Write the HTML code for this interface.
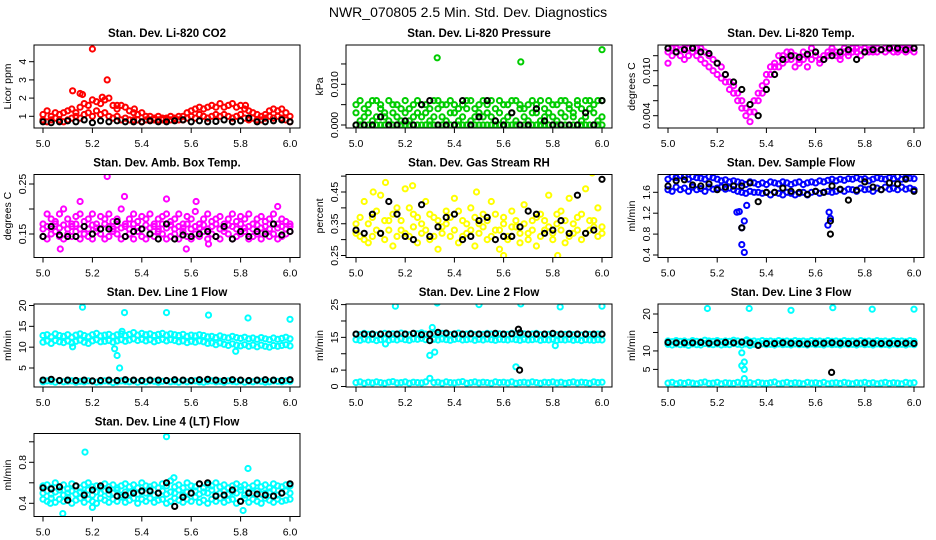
<!DOCTYPE html>
<html><head><meta charset="utf-8"><style>
html,body{margin:0;padding:0;background:#fff;}
svg{display:block;font-family:"Liberation Sans",sans-serif;}
</style></head><body>
<svg id="chart" width="936" height="540" viewBox="0 0 936 540" xmlns="http://www.w3.org/2000/svg">
<text x="468" y="17" text-anchor="middle" font-size="14">NWR_070805  2.5 Min. Std. Dev. Diagnostics</text>
</svg>
<script>
// ---------- data ----------
const xTicks=[5.0,5.2,5.4,5.6,5.8,6.0];
const xTickLabels=["5.0","5.2","5.4","5.6","5.8","6.0"];

const co2Hi=[1.1,1.3,1.0,1.2,1.1,1.2,1.3,1.4,1.2,1.5,1.7,1.6,1.9,1.8,1.7,1.9,2.0,1.6,1.4,1.6,1.5,1.3,1.2,1.1,1.2,1.0,1.0,0.9,1.0,0.9,0.9,1.0,0.9,1.0,1.0,1.2,1.3,1.4,1.5,1.4,1.5,1.6,1.5,1.7,1.5,1.6,1.7,1.5,1.6,1.4,1.3,1.2,1.1,1.0,1.1,1.3,1.4,1.3,1.4,1.2,1.0];
const co2Lo=[0.8,0.7,0.8,0.9,0.8,0.7,0.8,0.9,1.0,0.9,1.1,1.2,1.0,1.3,1.1,1.2,1.0,0.9,1.0,0.8,0.9,0.8,0.8,0.8,0.7,0.8,0.8,0.8,0.8,0.8,0.8,0.8,0.8,0.8,0.8,0.9,1.0,0.9,1.1,1.0,0.9,1.0,1.1,1.0,1.1,1.0,0.9,1.0,1.1,0.9,0.8,0.9,0.8,0.8,0.9,1.0,0.9,1.0,0.9,0.8,0.7];
const co2OutX=[5.12,5.15,5.16,5.2,5.24,5.26,5.3,5.37,5.82];
const co2OutY=[2.4,2.25,2.2,4.7,2.05,3.0,1.6,1.4,1.6];
const co2Black=[0.7,0.65,0.7,0.75,0.7,0.8,0.65,0.75,0.7,0.75,0.7,0.7,0.7,0.75,0.7,0.7,0.75,0.8,0.7,0.75,0.7,0.72,0.8,0.7,0.75,0.9,0.7,0.7,0.75,0.8,0.7];

const presA=[0.003,0.006,0.002,0.005,0.001,0.006,0.004,0.002,0.006,0.003,0.005,0.001,0.006,0.004,0.002,0.006,0.005,0.003,0.001,0.006,0.004,0.002,0.005,0.006,0.003,0.001,0.005,0.004,0.006,0.002,0.003,0.006,0.005,0.002,0.004,0.006,0.001,0.005,0.003,0.006,0.004,0.002,0.005,0.006,0.003,0.001,0.004,0.006,0.002,0.005,0.003,0.006,0.004,0.002,0.005,0.001,0.006,0.004,0.003,0.006,0.002];
const presB=[0.005,0.001,0.004,0.003,0.006,0.002,0.005,0.003,0.001,0.005,0.002,0.004,0.003,0.001,0.005,0.003,0.002,0.005,0.004,0.002,0.006,0.005,0.001,0.003,0.005,0.004,0.002,0.006,0.001,0.004,0.005,0.002,0.003,0.006,0.001,0.003,0.005,0.002,0.006,0.001,0.005,0.004,0.001,0.003,0.005,0.006,0.002,0.003,0.005,0.001,0.006,0.002,0.005,0.003,0.006,0.004,0.002,0.006,0.005,0.001,0.006];
const presZero=[0,0,0,0,0,0,0,0,0,0,0,0,0,0,0,0,0,0,0,0,0,0,0,0,0,0,0,0,0,0,0,0,0,0,0,0,0,0,0,0,0,0,0,0,0,0,0,0,0,0,0,0,0,0,0,0,0,0,0,0,0];
const presOutX=[5.33,5.67,6.0];
const presOutY=[0.0165,0.0155,0.0185];
const presBlack=[0.0,0.0,0.0,0.002,0.0,0.0,0.001,0.0,0.005,0.006,0.0,0.0,0.0,0.006,0.0,0.002,0.006,0.001,0.0,0.003,0.0,0.0,0.004,0.001,0.0,0.0,0.0,0.0,0.003,0.0,0.006];

const tempHi=[0.0125,0.013,0.013,0.0128,0.013,0.013,0.0125,0.013,0.013,0.0125,0.012,0.0115,0.011,0.0105,0.0095,0.0085,0.008,0.007,0.006,0.005,0.0045,0.006,0.007,0.008,0.0095,0.0105,0.011,0.012,0.012,0.0125,0.0125,0.012,0.0115,0.0125,0.012,0.013,0.0125,0.0115,0.012,0.0125,0.013,0.0125,0.012,0.013,0.0125,0.013,0.013,0.0128,0.013,0.0125,0.013,0.013,0.0128,0.013,0.013,0.013,0.0128,0.013,0.013,0.013,0.013];
const tempLo=[0.011,0.012,0.0125,0.012,0.0115,0.012,0.0125,0.012,0.0115,0.011,0.0105,0.01,0.0095,0.009,0.0085,0.0075,0.007,0.006,0.005,0.004,0.0032,0.0045,0.006,0.007,0.0085,0.0095,0.0105,0.0105,0.011,0.0115,0.0115,0.0105,0.011,0.0115,0.0105,0.0115,0.012,0.011,0.0115,0.012,0.0125,0.012,0.0115,0.0125,0.012,0.0125,0.0125,0.012,0.0125,0.0128,0.0125,0.0125,0.0128,0.0125,0.0128,0.0125,0.0125,0.0128,0.0125,0.0128,0.0125];
const tempBlack=[0.013,0.0125,0.0128,0.013,0.0125,0.0123,0.011,0.0095,0.0085,0.0075,0.0055,0.004,0.0075,0.0095,0.0115,0.012,0.0118,0.0122,0.0125,0.0115,0.012,0.0125,0.0128,0.0115,0.0125,0.0128,0.0128,0.013,0.013,0.0128,0.013];

const ambHi=[0.17,0.19,0.18,0.175,0.19,0.2,0.18,0.17,0.185,0.19,0.175,0.18,0.19,0.17,0.185,0.18,0.19,0.175,0.18,0.2,0.17,0.18,0.19,0.175,0.185,0.18,0.19,0.17,0.18,0.185,0.19,0.175,0.18,0.19,0.17,0.185,0.18,0.195,0.17,0.18,0.19,0.175,0.18,0.185,0.17,0.18,0.19,0.175,0.185,0.18,0.19,0.17,0.18,0.185,0.175,0.18,0.19,0.17,0.18,0.175,0.17];
const ambMid=[0.16,0.165,0.16,0.17,0.162,0.168,0.16,0.165,0.17,0.16,0.165,0.16,0.168,0.162,0.16,0.17,0.165,0.16,0.168,0.162,0.165,0.16,0.17,0.163,0.16,0.168,0.162,0.165,0.16,0.17,0.162,0.168,0.16,0.165,0.162,0.17,0.16,0.165,0.162,0.168,0.16,0.165,0.17,0.16,0.162,0.168,0.165,0.16,0.17,0.162,0.165,0.16,0.168,0.162,0.165,0.16,0.17,0.162,0.165,0.16,0.165];
const ambLo=[0.145,0.14,0.15,0.155,0.145,0.14,0.15,0.145,0.155,0.14,0.15,0.145,0.14,0.155,0.15,0.14,0.145,0.155,0.15,0.14,0.145,0.15,0.14,0.155,0.145,0.14,0.15,0.145,0.155,0.15,0.14,0.145,0.15,0.14,0.155,0.145,0.14,0.15,0.145,0.155,0.14,0.15,0.145,0.14,0.155,0.15,0.14,0.145,0.15,0.155,0.14,0.145,0.15,0.14,0.155,0.145,0.15,0.14,0.145,0.15,0.155];
const ambOutX=[5.07,5.15,5.26,5.33,5.5,5.58,5.62,5.95,5.67];
const ambOutY=[0.12,0.215,0.265,0.225,0.22,0.12,0.215,0.205,0.13];
const ambBlack=[0.145,0.165,0.148,0.145,0.145,0.165,0.15,0.16,0.16,0.175,0.145,0.155,0.16,0.15,0.14,0.17,0.14,0.148,0.145,0.15,0.155,0.145,0.165,0.14,0.155,0.145,0.155,0.15,0.17,0.148,0.155];

const rhA=[0.35,0.31,0.42,0.29,0.37,0.33,0.44,0.30,0.36,0.28,0.40,0.33,0.46,0.31,0.38,0.29,0.35,0.42,0.30,0.37,0.27,0.34,0.39,0.31,0.43,0.29,0.36,0.32,0.40,0.28,0.35,0.38,0.30,0.42,0.33,0.27,0.37,0.31,0.39,0.34,0.29,0.41,0.32,0.36,0.28,0.38,0.33,0.44,0.30,0.35,0.39,0.29,0.43,0.32,0.37,0.30,0.46,0.33,0.36,0.31,0.34];
const rhB=[0.32,0.37,0.30,0.35,0.31,0.39,0.32,0.36,0.33,0.38,0.31,0.36,0.32,0.40,0.34,0.37,0.32,0.33,0.38,0.31,0.36,0.32,0.35,0.37,0.33,0.39,0.31,0.35,0.33,0.37,0.32,0.34,0.36,0.31,0.38,0.33,0.35,0.30,0.34,0.36,0.32,0.35,0.30,0.33,0.37,0.31,0.36,0.34,0.32,0.38,0.33,0.36,0.31,0.35,0.33,0.38,0.32,0.36,0.34,0.40,0.32];
const rhOutX=[5.12,5.23,5.96,5.6,5.82,5.07,5.49];
const rhOutY=[0.48,0.47,0.51,0.25,0.25,0.45,0.45];
const rhBlack=[0.33,0.32,0.38,0.32,0.42,0.38,0.31,0.30,0.41,0.31,0.34,0.37,0.38,0.30,0.31,0.36,0.37,0.30,0.31,0.31,0.34,0.39,0.38,0.32,0.33,0.36,0.32,0.44,0.32,0.33,0.49];

const sfHi=[1.85,1.9,1.88,1.92,1.9,1.85,1.9,1.88,1.87,1.85,1.9,1.88,1.85,1.82,1.84,1.8,1.82,1.8,1.78,1.75,1.8,1.78,1.75,1.78,1.75,1.8,1.78,1.76,1.8,1.78,1.75,1.78,1.8,1.75,1.78,1.8,1.78,1.82,1.8,1.83,1.85,1.82,1.85,1.83,1.86,1.85,1.88,1.85,1.86,1.82,1.85,1.88,1.86,1.85,1.88,1.86,1.9,1.85,1.88,1.87,1.86];
const sfLo=[1.65,1.62,1.7,1.65,1.68,1.62,1.7,1.65,1.67,1.62,1.7,1.66,1.68,1.7,1.66,1.68,1.65,1.62,1.6,1.58,1.62,1.6,1.6,1.58,1.6,1.55,1.6,1.58,1.55,1.6,1.58,1.55,1.58,1.6,1.55,1.6,1.62,1.58,1.6,1.62,1.6,1.62,1.65,1.62,1.66,1.65,1.62,1.68,1.65,1.66,1.62,1.68,1.65,1.7,1.66,1.68,1.65,1.7,1.66,1.68,1.65];
const sfOutX=[5.28,5.29,5.30,5.30,5.31,5.31,5.32,5.65,5.655,5.66];
const sfOutY=[1.22,1.23,0.92,0.6,0.45,1.05,1.35,0.97,1.22,1.1];
const sfBlack=[1.72,1.82,1.84,1.74,1.72,1.76,1.65,1.70,1.72,1.72,1.78,1.42,1.60,1.60,1.68,1.62,1.60,1.56,1.62,1.60,1.72,1.66,1.45,1.64,1.80,1.70,1.65,1.78,1.76,1.85,1.62];
const sfBlackOutX=[5.3,5.66,5.66];
const sfBlackOutY=[0.92,1.05,0.8];

const l1Hi=[12.8,13,12.5,13.2,12.8,12.6,13,12.4,12.9,13.2,12.8,12.5,13,13.3,12.7,12.9,13.1,12.6,13,13.2,12.8,13.1,13.5,12.9,13.3,13,13.2,12.8,13.1,13.3,12.9,13.2,13,12.8,13.1,12.6,12.9,12.7,13,12.8,12.5,12.6,12.3,12.7,12.4,12.2,12.6,12.3,12.1,12.4,12,12.2,11.9,12.3,12,11.8,12.2,11.9,12.1,12.4,12];
const l1Lo=[11.2,11.5,10.9,11.6,11.3,11.1,11.5,11.0,11.4,11.7,11.2,10.9,11.5,11.8,11.3,11.4,11.6,11.2,11.5,11.8,11.4,11.7,12,11.6,11.9,11.5,11.8,11.3,11.6,11.9,11.5,11.8,11.6,11.3,11.5,11.1,11.4,11.2,11.5,11.3,10.9,11,10.6,11,10.7,10.4,10.8,10.5,10.3,10.6,10.2,10.5,10.1,10.5,10.2,10,10.4,10.2,10.4,10.6,10.3];
const l1Low=[1.7,1.9,1.8,1.6,1.9,1.7,1.8,1.9,1.6,1.8,1.7,1.9,1.8,1.6,1.7,1.9,1.8,1.5,1.7,1.9,1.8,1.7,1.9,1.6,1.8,1.7,1.9,1.8,1.6,1.8,1.9,1.7,1.8,1.6,1.9,1.7,1.8,1.9,1.7,1.6,1.8,1.9,1.7,1.8,1.6,1.9,1.8,1.7,1.9,1.6,1.8,1.7,1.9,1.8,1.6,1.7,1.9,1.8,1.7,1.9,1.8];
const l1OutX=[5.16,5.33,5.5,5.67,5.83,6.0,5.29,5.3,5.31,5.32,5.12,5.78];
const l1OutY=[19.6,18.3,18.3,17.7,17,16.7,9.6,8,5,13.8,10.1,9];
const l1Black=[2.1,2.3,2.0,2.1,2.0,2.1,1.9,2.0,2.1,2.0,2.2,2.1,2.0,2.1,2.1,2.0,2.2,2.1,2.0,2.2,2.3,2.1,2.0,2.2,2.1,2.0,2.1,2.2,2.1,2.0,2.2];

const l2Hi=[16,15.8,16.2,15.9,16.1,15.7,16,16.2,15.8,16.1,15.9,16.3,16,15.8,16.2,16.1,16.4,16,15.8,16.1,15.9,16.2,16,15.8,16.1,16.3,15.9,16,16.2,15.8,16.1,15.9,16.2,16,15.8,16.1,16,15.9,16.2,16,15.8,16.1,15.9,16,16.2,15.8,16,15.9,16.1,15.8,16,15.9,16.1,15.8,16,15.7,16,15.9,15.8,16,15.9];
const l2Lo=[14.3,14.1,14.5,14.2,14.4,14,14.3,14.5,14.1,14.4,14.2,14.6,14.3,14.1,14.5,14.4,14.7,14.3,14.1,14.4,14.2,14.5,14.3,14.1,14.4,14.6,14.2,14.3,14.5,14.1,14.4,14.2,14.5,14.3,14.1,14.4,14.3,14.2,14.5,14.3,14.1,14.4,14.2,14.3,14.5,14.1,14.3,14.2,14.4,14.1,14.3,14.2,14.4,14.1,14.3,14,14.3,14.2,14.1,14.3,14.2];
const l2Low=[1.2,1.4,1.0,1.3,1.1,1.4,1.2,1.0,1.3,1.5,1.1,1.2,1.4,1.0,1.3,1.2,1.1,1.4,2.5,1.2,1.3,1.0,1.4,1.2,1.1,1.3,1.5,1.0,1.2,1.4,1.1,1.3,1.2,1.0,1.4,1.2,1.3,1.1,1.4,1.0,1.2,1.3,1.1,1.4,1.2,1.0,1.3,1.2,1.4,1.1,1.3,1.0,1.2,1.4,1.1,1.3,1.2,1.0,1.4,1.2,1.3];
const l2OutX=[5.16,5.33,5.5,5.67,5.83,6.0,5.31,5.3,5.32,5.65,5.12,5.81];
const l2OutY=[24.5,25.5,25,25.2,24.3,24.5,18,9.5,10.5,6,13,12.5];
const l2Black=[16,16,16,16,16,16,16,16.2,15.8,16,16.5,16.3,16,16,16.1,16,16,16.2,16,16.1,16.4,16,16,16,16.2,16,16,16,16,16,16];
const l2BlackOutX=[5.3,5.66,5.665];
const l2BlackOutY=[14,17.5,5];

const l3Hi=[12.7,12.5,12.8,12.6,12.7,12.4,12.8,12.6,12.5,12.9,12.7,12.6,12.8,12.5,12.7,12.6,12.9,12.7,12.5,12.8,12.6,12.7,12.5,12.8,12.6,12.7,12.5,12.8,12.6,12.7,12.5,12.8,12.6,12.7,12.5,12.8,12.6,12.7,12.5,12.8,12.6,12.7,12.5,12.8,12.6,12.7,12.5,12.8,12.6,12.7,12.5,12.8,12.6,12.7,12.5,12.8,12.6,12.7,12.5,12.8,12.6];
const l3Lo=[11.8,11.6,11.9,11.7,11.8,11.5,11.9,11.7,11.6,12,11.8,11.7,11.9,11.6,11.8,11.7,12,11.8,11.6,11.9,11.5,11.8,11.6,11.9,11.7,11.8,11.6,11.9,11.7,11.8,11.6,11.9,11.7,11.8,11.6,11.9,11.7,11.8,11.6,11.9,11.7,11.8,11.6,11.9,11.7,11.8,11.6,11.9,11.7,11.8,11.6,11.9,11.7,11.8,11.6,11.9,11.7,11.8,11.6,11.9,11.7];
const l3Low=[1.3,1.5,1.1,1.4,1.2,1.5,1.3,1.1,1.4,1.6,1.2,1.3,1.5,1.1,1.4,1.3,1.2,1.5,1.3,1.2,1.4,1.1,1.5,1.3,1.2,1.4,1.6,1.1,1.3,1.5,1.2,1.4,1.3,1.1,1.5,1.3,1.4,1.2,1.5,1.1,1.3,1.4,1.2,1.5,1.3,1.1,1.4,1.3,1.5,1.2,1.4,1.1,1.3,1.5,1.2,1.4,1.3,1.1,1.5,1.3,1.4];
const l3OutX=[5.16,5.33,5.5,5.67,5.83,6.0,5.3,5.3,5.31,5.31,5.32,5.31];
const l3OutY=[21.5,21.5,21,21.7,21.3,21.3,9.5,6,7,5,13,2.5];
const l3Black=[12.3,12.2,12.2,12.2,12.3,12.1,12.2,12.3,12.2,12.4,12.2,11.5,12,12,12.2,12.1,12,11.9,12.1,12.1,12.2,12.1,12,12.1,12.2,12.1,12,12.1,12,12.1,12];
const l3BlackOutX=[5.665];
const l3BlackOutY=[4.2];

const l4Hi=[0.57,0.58,0.55,0.6,0.56,0.58,0.54,0.59,0.57,0.55,0.58,0.6,0.56,0.57,0.55,0.59,0.56,0.58,0.55,0.57,0.59,0.56,0.58,0.55,0.6,0.57,0.56,0.58,0.55,0.59,0.57,0.62,0.56,0.58,0.55,0.6,0.57,0.56,0.59,0.55,0.58,0.57,0.6,0.56,0.58,0.55,0.57,0.59,0.56,0.58,0.55,0.57,0.6,0.56,0.58,0.55,0.59,0.57,0.56,0.58,0.57];
const l4Lo=[0.44,0.42,0.45,0.41,0.44,0.42,0.46,0.4,0.43,0.45,0.41,0.44,0.42,0.4,0.45,0.43,0.41,0.44,0.42,0.46,0.41,0.43,0.45,0.4,0.44,0.42,0.45,0.41,0.43,0.44,0.4,0.42,0.45,0.43,0.41,0.44,0.42,0.46,0.41,0.43,0.4,0.44,0.42,0.45,0.41,0.43,0.44,0.4,0.42,0.45,0.41,0.44,0.42,0.4,0.45,0.43,0.41,0.44,0.42,0.43,0.44];
const l4Mid=[0.5,0.52,0.49,0.51,0.53,0.48,0.5,0.52,0.49,0.51,0.5,0.53,0.48,0.51,0.5,0.52,0.49,0.5,0.53,0.48,0.51,0.5,0.52,0.49,0.51,0.5,0.53,0.48,0.5,0.52,0.49,0.51,0.5,0.53,0.48,0.51,0.5,0.52,0.49,0.51,0.5,0.53,0.48,0.5,0.52,0.49,0.51,0.5,0.53,0.48,0.51,0.5,0.52,0.49,0.5,0.51,0.53,0.48,0.5,0.52,0.5];
const l4OutX=[5.08,5.17,5.5,5.83,5.81,5.2,5.03,5.53];
const l4OutY=[0.3,0.9,1.05,0.74,0.33,0.36,0.4,0.65];
const l4Black=[0.55,0.54,0.56,0.43,0.57,0.48,0.53,0.57,0.53,0.47,0.48,0.5,0.52,0.52,0.5,0.6,0.37,0.46,0.5,0.59,0.6,0.47,0.48,0.53,0.42,0.5,0.49,0.48,0.47,0.5,0.59];

// ---------- layout ----------
const colX=[[34,300,43,290],[346,612,356,602],[658,924,668,914]];
const rowTop=[45,174.5,304,433.5];
const boxH=83;
const svg=document.getElementById('chart');
const NS='http://www.w3.org/2000/svg';
function mk(tag,attrs,parent){const e=document.createElementNS(NS,tag);for(const k in attrs)e.setAttribute(k,attrs[k]);(parent||svg).appendChild(e);return e;}
function evenX(arr){const n=arr.length;return arr.map((v,i)=>5+i/(n-1));}

const panels=[
 {key:'co2',title:'Stan. Dev. Li-820 CO2',ylab:'Licor ppm',r:0,c:0,v0:1,p0:116.3-45,v1:4,p1:61.7-45,ticks:[1,2,3,4],labs:['1','2','3','4'],
  series:[{x:null,y:co2Hi,col:'#ff0000'},{x:null,y:co2Lo,col:'#ff0000'},{x:co2OutX,y:co2OutY,col:'#ff0000'},{x:null,y:co2Black,col:'#000'}]},
 {key:'pressure',title:'Stan. Dev. Li-820 Pressure',ylab:'kPa',r:0,c:1,v0:0,p0:125-45,v1:0.01,p1:84.3-45,ticks:[0,0.005,0.01,0.015],labs:['0.000','','0.010',''],
  series:[{x:null,y:presA,col:'#00cc00'},{x:null,y:presB,col:'#00cc00'},{x:null,y:presZero,col:'#00cc00'},{x:presOutX,y:presOutY,col:'#00cc00'},{x:null,y:presBlack,col:'#000'}]},
 {key:'temp',title:'Stan. Dev. Li-820 Temp.',ylab:'degrees C',r:0,c:2,v0:0.004,p0:115.7-45,v1:0.010,p1:70.7-45,ticks:[0.004,0.006,0.008,0.010,0.012],labs:['0.004','','','0.010',''],
  series:[{x:null,y:tempHi,col:'#ff00ff'},{x:null,y:tempLo,col:'#ff00ff'},{x:null,y:tempBlack,col:'#000'}]},
 {key:'ambtemp',title:'Stan. Dev. Amb. Box Temp.',ylab:'degrees C',r:1,c:0,v0:0.15,p0:234-174.5,v1:0.25,p1:184-174.5,ticks:[0.15,0.2,0.25],labs:['0.15','','0.25'],
  series:[{x:null,y:ambHi,col:'#ff00ff'},{x:null,y:ambMid,col:'#ff00ff'},{x:null,y:ambLo,col:'#ff00ff'},{x:ambOutX,y:ambOutY,col:'#ff00ff'},{x:null,y:ambBlack,col:'#000'}]},
 {key:'rh',title:'Stan. Dev. Gas Stream RH',ylab:'percent',r:1,c:1,v0:0.25,p0:255.5-174.5,v1:0.45,p1:192-174.5,ticks:[0.25,0.3,0.35,0.4,0.45,0.5],labs:['0.25','','0.35','','0.45',''],
  series:[{x:null,y:rhA,col:'#ffff00'},{x:null,y:rhB,col:'#ffff00'},{x:rhOutX,y:rhOutY,col:'#ffff00'},{x:null,y:rhBlack,col:'#000'}]},
 {key:'sampleflow',title:'Stan. Dev. Sample Flow',ylab:'ml/min',r:1,c:2,v0:0.4,p0:255-174.5,v1:1.6,p1:192.3-174.5,ticks:[0.4,0.8,1.2,1.6],labs:['0.4','0.8','1.2','1.6'],
  series:[{x:null,y:sfHi,col:'#0000ff'},{x:null,y:sfLo,col:'#0000ff'},{x:sfOutX,y:sfOutY,col:'#0000ff'},{x:null,y:sfBlack,col:'#000'},{x:sfBlackOutX,y:sfBlackOutY,col:'#000'}]},
 {key:'line1',title:'Stan. Dev. Line 1 Flow',ylab:'ml/min',r:2,c:0,v0:5,p0:368-304,v1:20,p1:305.5-304,ticks:[5,10,15,20],labs:['5','10','15','20'],
  series:[{x:null,y:l1Hi,col:'#00ffff'},{x:null,y:l1Lo,col:'#00ffff'},{x:null,y:l1Low,col:'#00ffff'},{x:l1OutX,y:l1OutY,col:'#00ffff'},{x:null,y:l1Black,col:'#000'}]},
 {key:'line2',title:'Stan. Dev. Line 2 Flow',ylab:'ml/min',r:2,c:1,v0:0,p0:386.5-304,v1:25,p1:303.6-304+1,ticks:[0,5,10,15,20,25],labs:['0','5','','15','','25'],
  series:[{x:null,y:l2Hi,col:'#00ffff'},{x:null,y:l2Lo,col:'#00ffff'},{x:null,y:l2Low,col:'#00ffff'},{x:l2OutX,y:l2OutY,col:'#00ffff'},{x:null,y:l2Black,col:'#000'},{x:l2BlackOutX,y:l2BlackOutY,col:'#000'}]},
 {key:'line3',title:'Stan. Dev. Line 3 Flow',ylab:'ml/min',r:2,c:2,v0:5,p0:369.4-304,v1:20,p1:314-304,ticks:[5,10,15,20],labs:['5','10','','20'],
  series:[{x:null,y:l3Hi,col:'#00ffff'},{x:null,y:l3Lo,col:'#00ffff'},{x:null,y:l3Low,col:'#00ffff'},{x:l3OutX,y:l3OutY,col:'#00ffff'},{x:null,y:l3Black,col:'#000'},{x:l3BlackOutX,y:l3BlackOutY,col:'#000'}]},
 {key:'line4',title:'Stan. Dev. Line 4 (LT) Flow',ylab:'ml/min',r:3,c:0,v0:0.4,p0:503.3-433.5,v1:0.8,p1:462.3-433.5,ticks:[0.4,0.6,0.8,1.0],labs:['0.4','','0.8',''],
  series:[{x:null,y:l4Hi,col:'#00ffff'},{x:null,y:l4Lo,col:'#00ffff'},{x:null,y:l4Mid,col:'#00ffff'},{x:l4OutX,y:l4OutY,col:'#00ffff'},{x:null,y:l4Black,col:'#000'}]}
];

panels.forEach((p,pi)=>{
  const [bl,br,x5,x6]=colX[p.c];
  const top=rowTop[p.r], bot=top+boxH;
  const xs=v=>x5+(v-5)*(x6-x5);
  const ys=v=>top+p.p0+(v-p.v0)*(p.p1-p.p0)/(p.v1-p.v0);
  const g=mk('g',{});
  
  
  const cid='clip'+pi;
  const cp=mk('clipPath',{id:cid},g);
  mk('rect',{x:bl,y:top,width:br-bl,height:boxH},cp);
  const t=mk('text',{x:(bl+br)/2,y:top-8,'text-anchor':'middle','font-size':'11.5','font-weight':'bold'},g);
  t.textContent=p.title;
  
  
  const yl=mk('text',{x:0,y:0,'text-anchor':'middle','font-size':'10.5',transform:`translate(${bl-23},${top+boxH/2}) rotate(-90)`},g);
  yl.textContent=p.ylab;
  
  
  const pg=mk('g',{'clip-path':`url(#${cid})`,fill:'none','stroke-width':'2'},g);
  
  
  p.series.forEach(s=>{
    const xv=s.x||evenX(s.y);
    s.y.forEach((v,i)=>{
      const c=mk('circle',{cx:xs(xv[i]).toFixed(1),cy:ys(v).toFixed(1),r:'2.6',stroke:s.col},pg);
      
      
    });
  });
  const box=mk('rect',{x:bl,y:top,width:br-bl,height:boxH,fill:'none',stroke:'#000','stroke-width':'1'},g);
  
  
  const xa=mk('g',{stroke:'#000','stroke-width':'1'},g);
  
  
  xTicks.forEach((v,i)=>{
    const x=xs(v);
    mk('line',{x1:x,x2:x,y1:bot,y2:bot+5},xa);
    const tl=mk('text',{x:x,y:bot+19,'text-anchor':'middle','font-size':'10.5',stroke:'none',fill:'#000'},xa);
    tl.textContent=xTickLabels[i];
    
    
  });
  const ya=mk('g',{stroke:'#000','stroke-width':'1'},g);
  
  
  p.ticks.forEach((v,i)=>{
    const y=ys(v);
    if(y<top-0.5||y>bot+0.5) return;
    mk('line',{x1:bl-5,x2:bl,y1:y,y2:y},ya);
    if(p.labs[i]){
      const tl=mk('text',{x:0,y:0,'text-anchor':'middle','font-size':'10.5',stroke:'none',fill:'#000',transform:`translate(${bl-8},${y}) rotate(-90)`},ya);
      tl.textContent=p.labs[i];
      
      
    }
  });
});
</script>
</body></html>
